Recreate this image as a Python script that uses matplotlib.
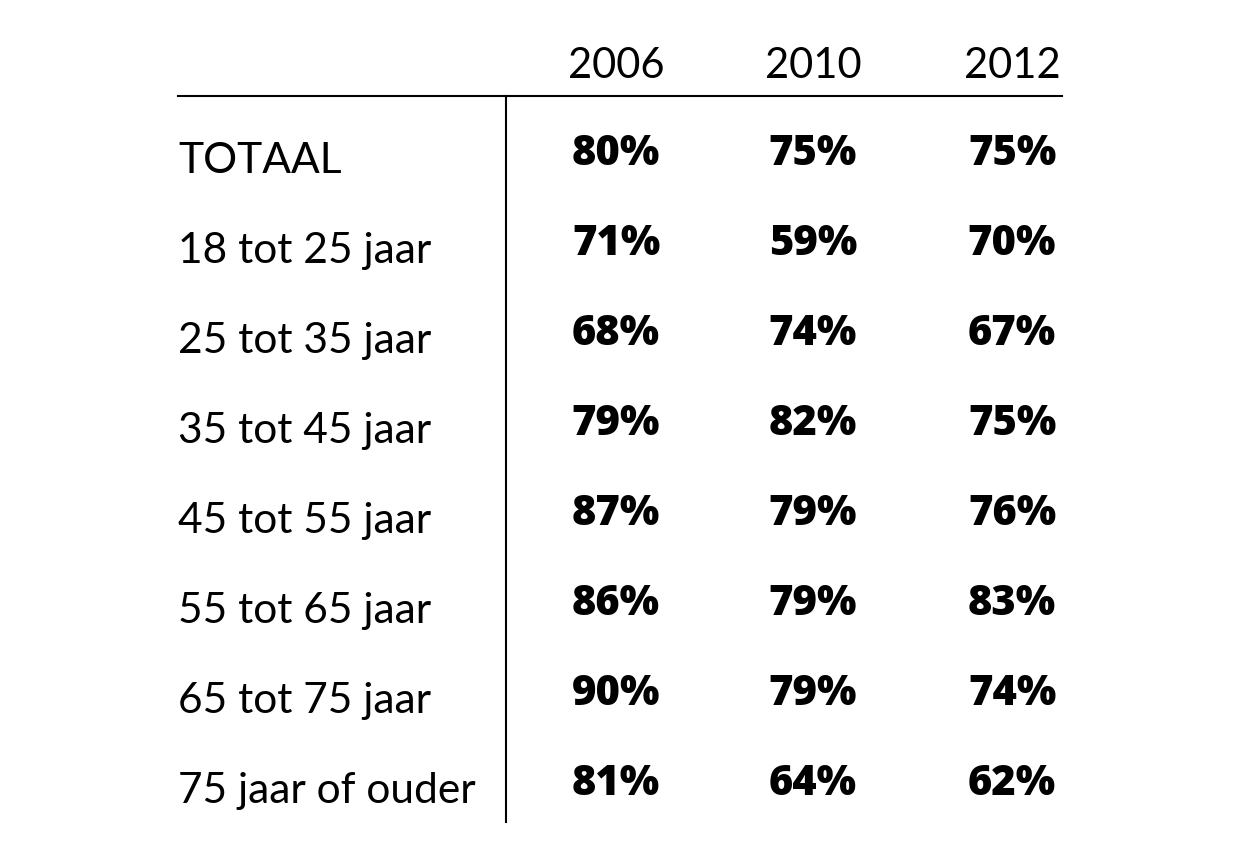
import matplotlib.pyplot as plt

years = ["2006", "2010", "2012"]
groups = ["TOTAAL", "18 tot 25 jaar", "25 tot 35 jaar", "35 tot 45 jaar",
          "45 tot 55 jaar", "55 tot 65 jaar", "65 tot 75 jaar", "75 jaar of ouder"]
v2006 = [80, 71, 68, 79, 87, 86, 90, 81]
v2010 = [75, 59, 74, 82, 79, 79, 79, 64]
v2012 = [75, 70, 67, 75, 76, 83, 74, 62]

fig = plt.figure(figsize=(12.4, 8.59), dpi=100)
ax = fig.add_axes([0, 0, 1, 1])
ax.set_xlim(0, 1240)
ax.set_ylim(859, 0)
ax.set_axis_off()

col_x = [616, 813, 1012]
row_step = 90

# header
for x, yr in zip(col_x, years):
    ax.text(x, 78, yr, ha='center', va='baseline', fontsize=30,
            family='Lato', weight='normal')

# grid lines
ax.plot([178, 1062], [96, 96], color='black', lw=1.5)
ax.plot([506, 506], [96, 822], color='black', lw=1.5)

# rows
for i, g in enumerate(groups):
    ax.text(178, 173 + i * row_step, g, ha='left', va='baseline',
            fontsize=30.6, family='Lato', weight='normal')
    for x, vals in zip(col_x, [v2006, v2010, v2012]):
        ax.text(x, 165 + i * row_step, f"{vals[i]}%", ha='center',
                va='baseline', fontsize=30, family='Open Sans', weight=800)

fig.savefig("out.png", dpi=100, facecolor='white')
